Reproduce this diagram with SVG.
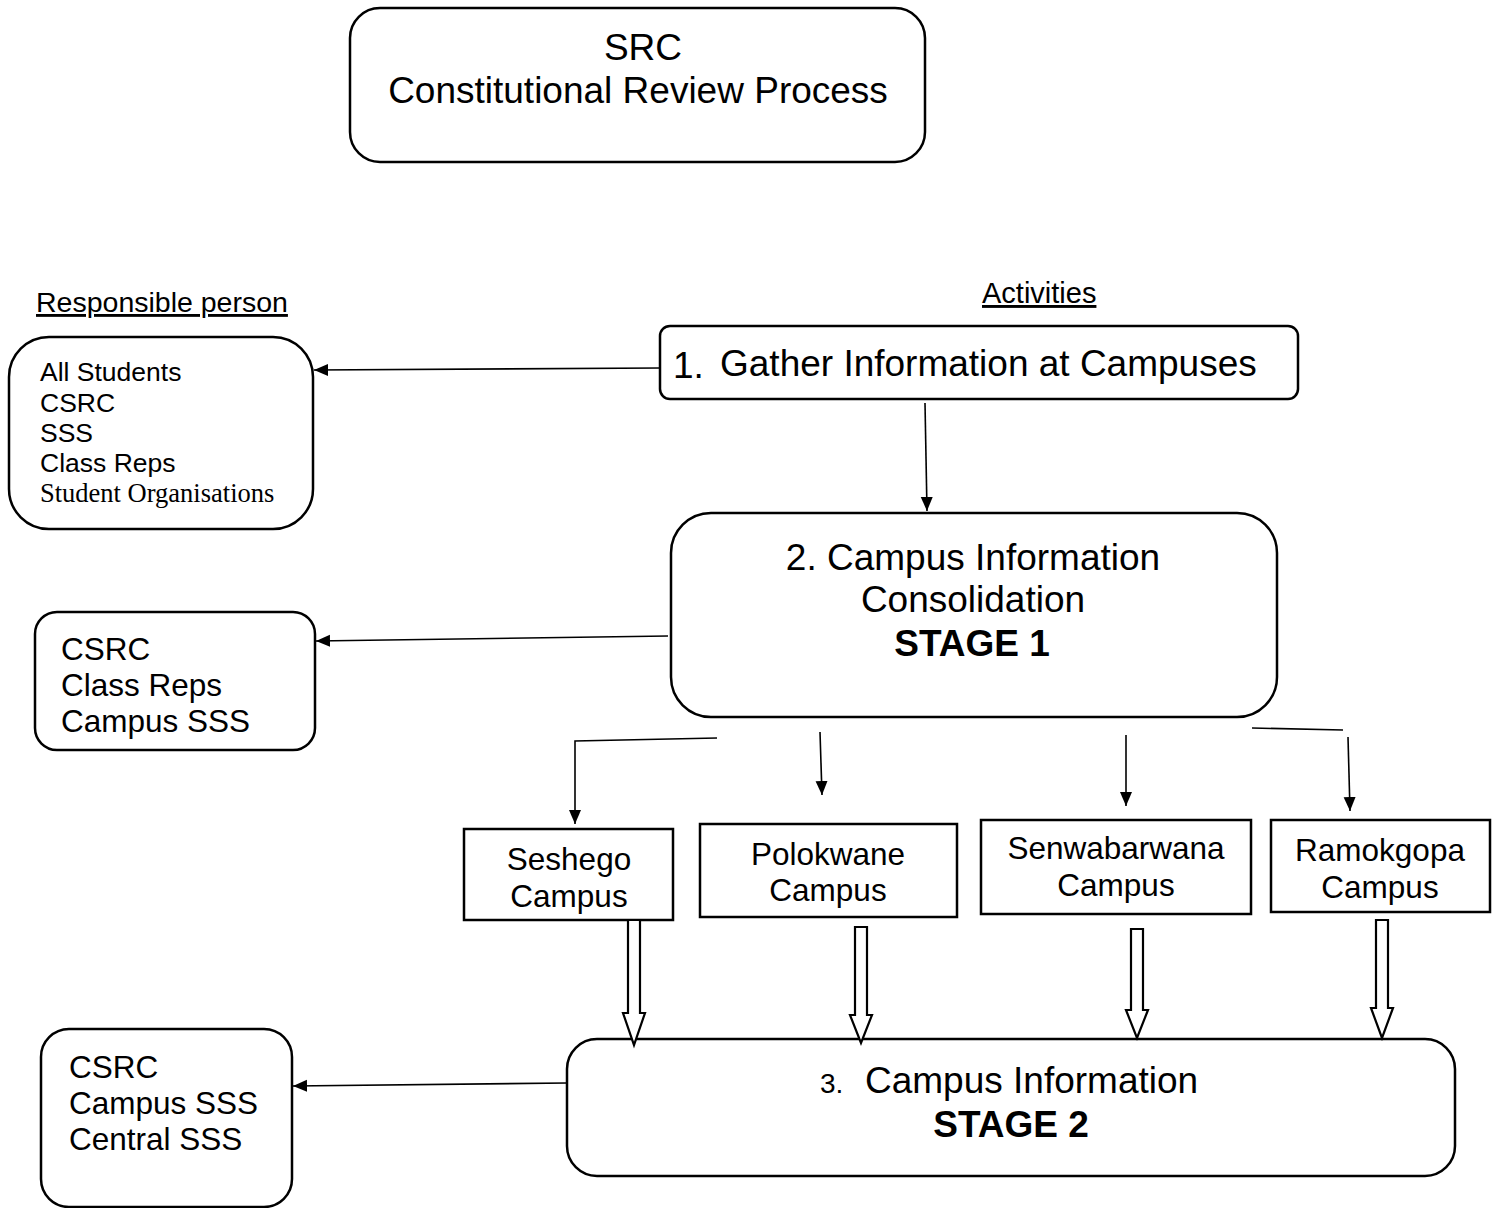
<svg xmlns="http://www.w3.org/2000/svg" width="1497" height="1208" viewBox="0 0 1497 1208">
<defs>
<style>
.box{fill:#fff;stroke:#000;stroke-width:2.5}
.t{font-family:"Liberation Sans",Arial,sans-serif;fill:#000}
.s{font-family:"Liberation Serif","Times New Roman",serif;fill:#000}
.b{font-weight:bold}
.ln{stroke:#000;stroke-width:1.6;fill:none}
.hol{fill:#fff;stroke:#000;stroke-width:2.2;stroke-linejoin:miter}
</style>
<marker id="ah" markerUnits="userSpaceOnUse" markerWidth="16" markerHeight="14" refX="14" refY="6" orient="auto">
<path d="M0,0 L14,6 L0,12 Z" fill="#000"/>
</marker>
</defs>
<rect width="1497" height="1208" fill="#fff"/>

<g id="title">
<rect class="box" x="350" y="8" width="575" height="154" rx="30"/>
<text class="t" x="643" y="60" font-size="37" text-anchor="middle">SRC</text>
<text class="t" x="638" y="103" font-size="37" text-anchor="middle">Constitutional Review Process</text>
</g>

<g id="hdr-responsible">
<text class="t" x="36" y="312" font-size="28.5" text-decoration="underline">Responsible person</text>
</g>
<g id="hdr-activities">
<text class="t" x="982" y="303" font-size="29" text-decoration="underline">Activities</text>
</g>

<g id="resp1">
<rect class="box" x="9" y="337" width="304" height="192" rx="40"/>
<text class="t" font-size="26.5"><tspan x="40" y="381">All Students</tspan><tspan x="40" y="412">CSRC</tspan><tspan x="40" y="442">SSS</tspan><tspan x="40" y="472">Class Reps</tspan></text>
<text class="s" x="40" y="502" font-size="26.5">Student Organisations</text>
</g>

<g id="act1">
<rect class="box" x="660" y="326" width="638" height="73" rx="10"/>
<text class="t" x="673" y="378" font-size="37">1.</text>
<text class="t" x="720" y="376" font-size="37">Gather Information at Campuses</text>
</g>

<g id="act2">
<rect class="box" x="671" y="513" width="606" height="204" rx="40"/>
<text class="t" x="973" y="570" font-size="37" text-anchor="middle">2. Campus Information</text>
<text class="t" x="973" y="612" font-size="37" text-anchor="middle">Consolidation</text>
<text class="t b" x="972" y="656" font-size="37" text-anchor="middle">STAGE 1</text>
</g>

<g id="resp2">
<rect class="box" x="35" y="612" width="280" height="138" rx="22"/>
<text class="t" font-size="31.5"><tspan x="61" y="660">CSRC</tspan><tspan x="61" y="696">Class Reps</tspan><tspan x="61" y="732">Campus SSS</tspan></text>
</g>

<g id="seshego">
<rect class="box" x="464" y="829" width="209" height="91"/>
<text class="t" x="569" y="870" font-size="31.5" text-anchor="middle">Seshego</text>
<text class="t" x="569" y="907" font-size="31.5" text-anchor="middle">Campus</text>
</g>
<g id="polokwane">
<rect class="box" x="700" y="824" width="257" height="93"/>
<text class="t" x="828" y="865" font-size="31.5" text-anchor="middle">Polokwane</text>
<text class="t" x="828" y="901" font-size="31.5" text-anchor="middle">Campus</text>
</g>
<g id="senwabarwana">
<rect class="box" x="981" y="820" width="270" height="94"/>
<text class="t" x="1116" y="859" font-size="31.5" text-anchor="middle">Senwabarwana</text>
<text class="t" x="1116" y="896" font-size="31.5" text-anchor="middle">Campus</text>
</g>
<g id="ramokgopa">
<rect class="box" x="1271" y="820" width="219" height="92"/>
<text class="t" x="1380" y="861" font-size="31.5" text-anchor="middle">Ramokgopa</text>
<text class="t" x="1380" y="898" font-size="31.5" text-anchor="middle">Campus</text>
</g>

<g id="act3">
<rect class="box" x="567" y="1039" width="888" height="137" rx="30"/>
<text class="t" x="820" y="1093" font-size="28">3.</text>
<text class="t" x="865" y="1093" font-size="37">Campus Information</text>
<text class="t b" x="1011" y="1137" font-size="37" text-anchor="middle">STAGE 2</text>
</g>

<g id="resp3">
<rect class="box" x="41" y="1029" width="251" height="178" rx="28"/>
<text class="t" font-size="31.5"><tspan x="69" y="1078">CSRC</tspan><tspan x="69" y="1114">Campus SSS</tspan><tspan x="69" y="1150">Central SSS</tspan></text>
</g>

<g id="connectors">
<line class="ln" x1="660" y1="368" x2="314" y2="370" marker-end="url(#ah)"/>
<line class="ln" x1="925" y1="403" x2="927" y2="511" marker-end="url(#ah)"/>
<line class="ln" x1="668" y1="636" x2="316" y2="641" marker-end="url(#ah)"/>
<line class="ln" x1="567" y1="1083" x2="293" y2="1086" marker-end="url(#ah)"/>
<polyline class="ln" points="717,738 575,741 575,824" marker-end="url(#ah)"/>
<line class="ln" x1="820" y1="732" x2="822" y2="795" marker-end="url(#ah)"/>
<line class="ln" x1="1126" y1="735" x2="1126" y2="806" marker-end="url(#ah)"/>
<polyline class="ln" points="1252,728 1343,730" />
<line class="ln" x1="1348" y1="737" x2="1350" y2="811" marker-end="url(#ah)"/>
<path class="hol" d="M628,920 V1013 H623 L634,1045 L645,1013 H640 V920 Z"/>
<path class="hol" d="M855,927 V1015 H850 L861,1043 L872,1015 H867 V927 Z"/>
<path class="hol" d="M1131,929 V1010 H1126 L1137,1038 L1148,1010 H1143 V929 Z"/>
<path class="hol" d="M1376,920 V1008 H1371 L1382,1038 L1393,1008 H1388 V920 Z"/>
</g>
</svg>
